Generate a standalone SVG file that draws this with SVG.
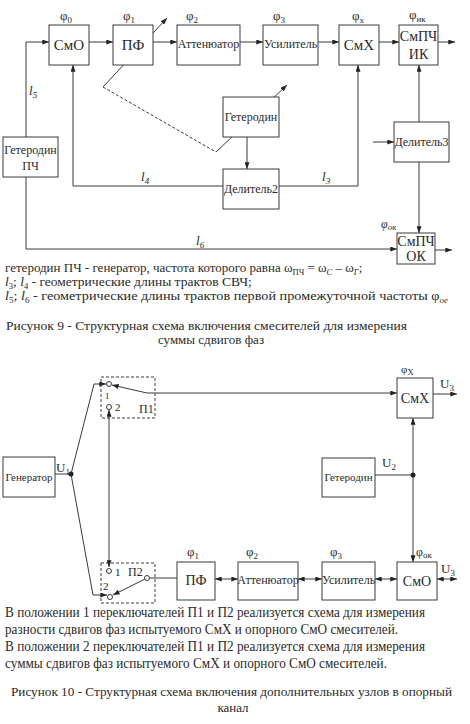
<svg xmlns="http://www.w3.org/2000/svg" width="470" height="724" viewBox="0 0 470 724" font-family="'Liberation Serif','Times New Roman',serif">
<style>
.b{fill:#fff;stroke:#3a3a3a;stroke-width:1}
.d{fill:none;stroke:#3a3a3a;stroke-width:1;stroke-dasharray:3,2}
.c{fill:none;stroke:#3a3a3a;stroke-width:1}
.a{marker-end:url(#ah)}
.aa{marker-start:url(#ah);marker-end:url(#ah)}
text{font-family:"Liberation Serif","Times New Roman",serif;fill:#2a2a2a}
.t15{font-size:15px}
.t14{font-size:14px}
.t135{font-size:13.5px}
.t13{font-size:13px}
.t12{font-size:12px}
.t11{font-size:11px}
.t9{font-size:9px}
.s{font-size:8.5px}
.m{text-anchor:middle}
.i{font-style:italic}
.dot{fill:#222}
.ring{fill:#fff;stroke:#3a3a3a;stroke-width:1}
</style>
<defs>
<marker id="ah" viewBox="0 0 8 6" refX="8" refY="3" markerWidth="7" markerHeight="5" orient="auto-start-reverse" markerUnits="userSpaceOnUse"><path d="M0,0 L8,3 L0,6 z" fill="#222"/></marker>
</defs>
<rect width="470" height="724" fill="#fff"/>

<!-- ===== Figure 9 ===== -->
<g id="connectors9">
<path class="c a" d="M89,42 H113"/>
<path class="c a" d="M153,42 H177"/>
<path class="c a" d="M240,42 H263"/>
<path class="c a" d="M318,42 H339"/>
<path class="c a" d="M379,42 H399"/>
<path class="c a" d="M438,42 H455"/>
<path class="c a" d="M26,137 V42 H49"/>
<path class="c a" d="M26,177 V249 H397"/>
<path class="c a" d="M223,186 H73 V65"/>
<path class="c a" d="M279,186 H358 V65"/>
<path class="c a" d="M247,137 V169"/>
<path class="c a" d="M373,142 H394"/>
<path class="c a" d="M419,122 V65"/>
<path class="c a" d="M419,162 V233"/>
<path class="c a" d="M435,250 H452"/>
<path class="d" d="M103,87 L216,152"/>
<path class="c a" d="M103,87 L167,18"/>
<path class="c a" d="M216,152 L287,85"/>
<text class="t13 i" x="29" y="95">l<tspan class="t9" dy="3">5</tspan></text>
<text class="t13 i" x="141" y="181">l<tspan class="t9" dy="3">4</tspan></text>
<text class="t13 i" x="322" y="181">l<tspan class="t9" dy="3">3</tspan></text>
<text class="t13 i" x="196" y="245">l<tspan class="t9" dy="3">6</tspan></text>
</g>

<g id="smo9">
<rect class="b" x="49" y="25" width="40" height="40"/>
<text class="t15 m" x="69" y="50">СмО</text>
<text class="t13" x="60" y="20">φ<tspan class="t9" dy="3">0</tspan></text>
</g>
<g id="pf9">
<rect class="b" x="113" y="25" width="40" height="40"/>
<text class="t15 m" x="133" y="50">ПФ</text>
<text class="t13" x="123" y="20">φ<tspan class="t9" dy="3">1</tspan></text>
</g>
<g id="att9">
<rect class="b" x="177" y="25" width="63" height="40"/>
<text class="t12 m" x="208.5" y="48">Аттенюатор</text>
<text class="t13" x="186" y="20">φ<tspan class="t9" dy="3">2</tspan></text>
</g>
<g id="amp9">
<rect class="b" x="263" y="25" width="55" height="40"/>
<text class="t12 m" x="290.5" y="48">Усилитель</text>
<text class="t13" x="273" y="20">φ<tspan class="t9" dy="3">3</tspan></text>
</g>
<g id="smx9">
<rect class="b" x="339" y="25" width="40" height="40"/>
<text class="t15 m" x="359" y="50">СмХ</text>
<text class="t13" x="352" y="20">φ<tspan class="t9" dy="3">x</tspan></text>
</g>
<g id="smpchik">
<rect class="b" x="399" y="25" width="39" height="40"/>
<text class="t14 m" x="418.5" y="41">СмПЧ</text>
<text class="t14 m" x="418.5" y="59">ИК</text>
<text class="t13" x="409" y="19">φ<tspan class="t9" dy="3">ик</tspan></text>
</g>
<g id="getpch">
<rect class="b" x="3" y="137" width="55" height="40"/>
<text class="t12 m" x="30.5" y="154">Гетеродин</text>
<text class="t12 m" x="30.5" y="170">ПЧ</text>
</g>
<g id="get9">
<rect class="b" x="223" y="97" width="56" height="40"/>
<text class="t12 m" x="251" y="121">Гетеродин</text>
</g>
<g id="del2">
<rect class="b" x="223" y="169" width="56" height="40"/>
<text class="t12 m" x="251" y="193">Делитель2</text>
</g>
<g id="del3">
<rect class="b" x="394" y="122" width="55" height="40"/>
<text class="t12 m" x="421.5" y="146">Делитель3</text>
</g>
<g id="smpchok">
<rect class="b" x="397" y="233" width="38" height="31"/>
<text class="t14 m" x="416" y="246">СмПЧ</text>
<text class="t14 m" x="416" y="261">ОК</text>
<text class="t12 i" x="381" y="228">φ<tspan class="t9" dy="2">ок</tspan></text>
</g>

<g id="notes9">
<text class="t13" x="5" y="272">гетеродин ПЧ - генератор, частота которого равна ω<tspan class="s" dy="2.5">ПЧ</tspan><tspan dy="-2.5"> = ω</tspan><tspan class="s i" dy="2.5">C</tspan><tspan dy="-2.5"> – ω</tspan><tspan class="s i" dy="2.5">Г</tspan><tspan dy="-2.5">;</tspan></text>
<text class="t135" x="5" y="286"><tspan class="i">l</tspan><tspan class="s" dy="2.5">3</tspan><tspan dy="-2.5">; </tspan><tspan class="i">l</tspan><tspan class="s" dy="2.5">4</tspan><tspan dy="-2.5"> - геометрические длины трактов СВЧ;</tspan></text>
<text class="t135" x="5" y="300" textLength="443" lengthAdjust="spacingAndGlyphs"><tspan class="i">l</tspan><tspan class="s" dy="2.5">5</tspan><tspan dy="-2.5">; </tspan><tspan class="i">l</tspan><tspan class="s" dy="2.5">6</tspan><tspan dy="-2.5"> - геометрические длины трактов первой промежуточной частоты φ</tspan><tspan class="s i" dy="2.5">ое</tspan></text>
<text class="t13" x="6" y="330" textLength="401" lengthAdjust="spacingAndGlyphs">Рисунок  9  - Структурная схема включения смесителей для измерения</text>
<text class="t13 m" x="211" y="344">суммы сдвигов фаз</text>
</g>

<!-- ===== Figure 10 ===== -->
<g id="connectors10">
<path class="c" d="M55,474 H71"/>
<path class="c a" d="M71,474 L94,384 H106"/>
<path class="c a" d="M71,474 L93,595 H107"/>
<path class="c a" d="M147,393 L112,385"/>
<path class="c a" d="M147,393 H397"/>
<path class="c aa" d="M109,410 V567"/>
<path class="c a" d="M145,579 L113,595"/>
<path class="c" d="M150,578 H177"/>
<path class="c aa" d="M215,579 H238"/>
<path class="c aa" d="M298,579 H322"/>
<path class="c aa" d="M375,579 H397"/>
<path class="c aa" d="M437,579 H457"/>
<path class="c a" d="M432,394 H457"/>
<path class="c aa" d="M413,418 V562"/>
<path class="c" d="M375,475 H413"/>
<circle class="dot" cx="71" cy="474" r="2.5"/>
<circle class="dot" cx="413" cy="475" r="2.5"/>
<text class="t13" x="56" y="472">U<tspan class="t9" dy="3">1</tspan></text>
<text class="t13" x="382" y="467">U<tspan class="t9" dy="3">2</tspan></text>
<text class="t13" x="440" y="388">U<tspan class="t9" dy="3">3</tspan></text>
<text class="t13" x="441" y="573">U<tspan class="t9" dy="3">3</tspan></text>
</g>

<g id="gen">
<rect class="b" x="3" y="457" width="52" height="40"/>
<text class="t11 m" x="29" y="481">Генератор</text>
</g>
<g id="p1">
<rect class="d" x="101" y="377" width="54" height="41"/>
<circle class="ring" cx="109" cy="384" r="2.5"/>
<circle class="ring" cx="109" cy="407" r="2.5"/>
<text class="t9" x="105" y="399">1</text>
<text class="t11" x="115" y="411">2</text>
<text class="t12" x="139" y="413">П1</text>
</g>
<g id="p2">
<rect class="d" x="101" y="563" width="54" height="40"/>
<circle class="ring" cx="109" cy="571" r="2.5"/>
<circle class="ring" cx="147" cy="578" r="2.5"/>
<circle class="ring" cx="110" cy="597" r="2.5"/>
<text class="t11" x="115" y="576">1</text>
<text class="t12" x="128" y="576">П2</text>
<text class="t11" x="103" y="590">2</text>
</g>
<g id="smx10">
<rect class="b" x="397" y="378" width="36" height="40"/>
<text class="t14 m" x="415" y="403">СмХ</text>
<text class="t11" x="401" y="373">φ<tspan class="t9" dy="2">X</tspan></text>
</g>
<g id="get10">
<rect class="b" x="322" y="458" width="53" height="39"/>
<text class="t11 m" x="348.5" y="481">Гетеродин</text>
</g>
<g id="pf10">
<rect class="b" x="177" y="562" width="38" height="38"/>
<text class="t14 m" x="196" y="585">ПФ</text>
<text class="t13" x="187" y="556">φ<tspan class="t9" dy="3">1</tspan></text>
</g>
<g id="att10">
<rect class="b" x="238" y="562" width="60" height="38"/>
<text class="t12 m" x="268" y="584">Аттенюатор</text>
<text class="t13" x="246" y="556">φ<tspan class="t9" dy="3">2</tspan></text>
</g>
<g id="amp10">
<rect class="b" x="322" y="562" width="53" height="38"/>
<text class="t12 m" x="348.5" y="584">Усилитель</text>
<text class="t13" x="330" y="556">φ<tspan class="t9" dy="3">3</tspan></text>
</g>
<g id="smo10">
<rect class="b" x="397" y="562" width="40" height="38"/>
<text class="t14 m" x="417" y="586">СмО</text>
<text class="t12" x="416" y="556">φ<tspan class="t9" dy="2">ок</tspan></text>
</g>

<g id="notes10">
<text class="t14" x="5" y="617" textLength="420" lengthAdjust="spacingAndGlyphs">В положении 1 переключателей П1 и П2 реализуется схема для измерения</text>
<text class="t14" x="5" y="634" textLength="393" lengthAdjust="spacingAndGlyphs">разности сдвигов фаз испытуемого СмХ и опорного СмО смесителей.</text>
<text class="t14" x="5" y="651" textLength="420" lengthAdjust="spacingAndGlyphs">В положении 2 переключателей П1 и П2 реализуется схема для измерения</text>
<text class="t14" x="5" y="668" textLength="382" lengthAdjust="spacingAndGlyphs">суммы сдвигов фаз испытуемого СмХ и опорного СмО смесителей.</text>
<text class="t13" x="11" y="696" textLength="441" lengthAdjust="spacingAndGlyphs">Рисунок 10 - Структурная схема включения дополнительных узлов в опорный</text>
<text class="t13 m" x="233" y="712">канал</text>
</g>
</svg>
